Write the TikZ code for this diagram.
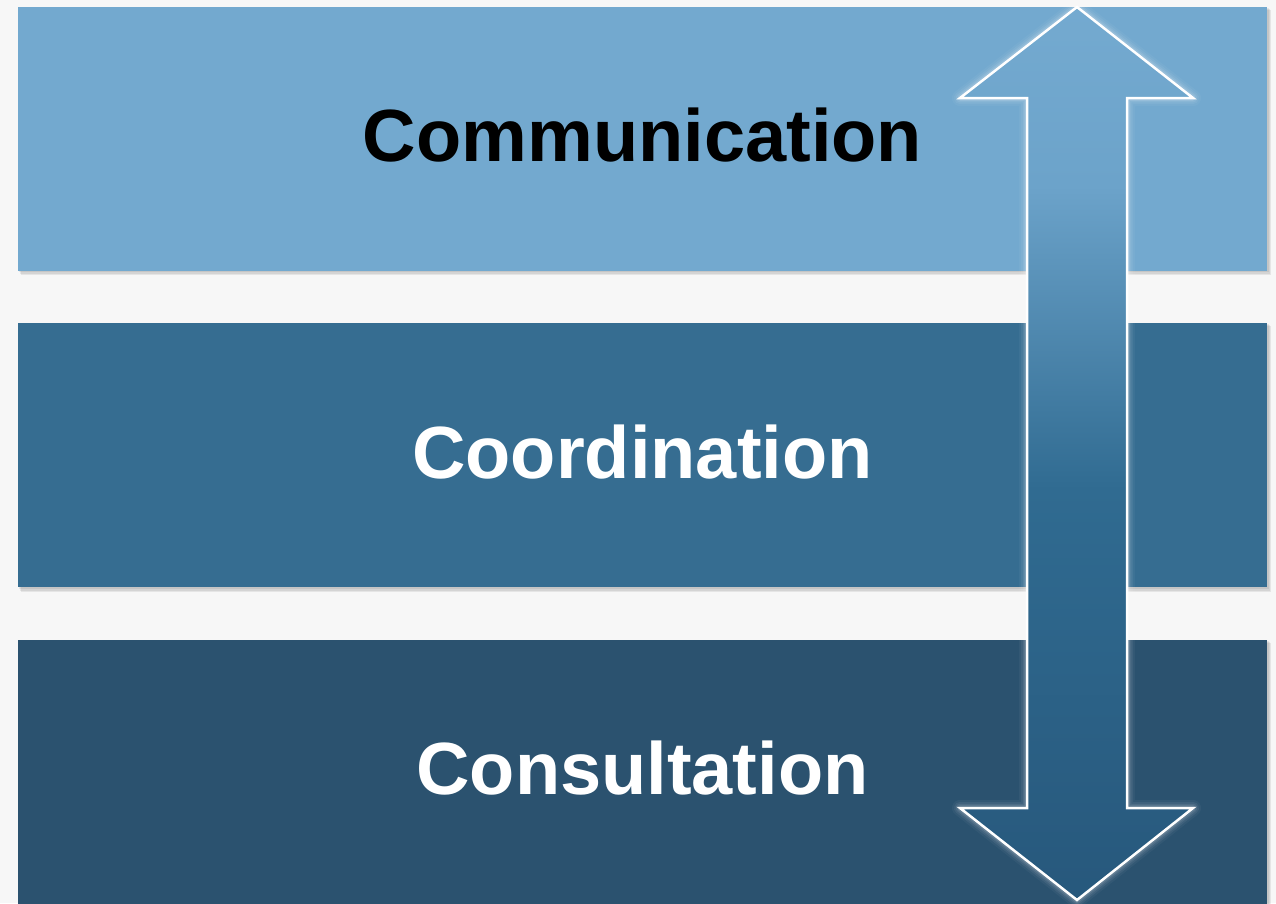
\documentclass[tikz,border=0pt]{standalone}
\usepackage{fontspec}
\setmainfont{Liberation Sans}
\definecolor{pagebg}{HTML}{F7F7F7}
\definecolor{bandA}{HTML}{73A9CF}
\definecolor{bandB}{HTML}{366D91}
\definecolor{bandC}{HTML}{2B526F}
\definecolor{arrowTop}{HTML}{74AAD0}
\definecolor{arrowUp}{HTML}{6CA3CA}
\definecolor{arrowMid}{HTML}{306B91}
\definecolor{arrowBot}{HTML}{27587C}
% vertical fill of the double arrow: 25bp = bottom tip, 75bp = top tip
\pgfdeclareverticalshading{arrowfade}{100bp}{
  color(0bp)=(arrowBot); color(25bp)=(arrowBot); color(48bp)=(arrowMid);
  color(65bp)=(arrowUp); color(75bp)=(arrowTop); color(100bp)=(arrowTop)}
\begin{document}
\begin{tikzpicture}[x=1pt,y=-1pt,
  band/.style={rectangle, inner sep=0pt, minimum width=1249pt, minimum height=264pt, anchor=north west},
  label/.style={font=\fontsize{74}{88}\selectfont\bfseries, inner sep=0pt},
  bandshadow/.style={fill=black, opacity=0.07}]
  % page
  \fill[pagebg] (0,0) rectangle (1276,903);
  \useasboundingbox (0,0) rectangle (1276,903);

  % soft shadows under the bands
  \foreach \t/\b in {7/271, 323/588, 640/906} {
    \fill[bandshadow] (21,\t+3) rectangle (1271,\b+4);
    \fill[bandshadow] (20,\t+2) rectangle (1270,\b+2.5);
    \fill[bandshadow] (19,\t+1) rectangle (1269,\b+1.2);
  }

  % the three bands
  \node[band, fill=bandA] (comm) at (18,7) {};
  \node[band, fill=bandB] (coord) at (18,323) {};
  \node[band, fill=bandC, minimum height=266pt] (cons) at (18,640) {};

  % band titles
  \node[label, text=black] (commtext) at (642.5,135) {Communication};
  \node[label, text=white] (coordtext) at (642.5,452) {Coordination};
  \node[label, text=white] (constext) at (642.5,768) {Consultation};

  % double arrow outline
  \def\arrowpath{(1077,7) -- (1193,98) -- (1127,98) -- (1127,808) -- (1193,808) -- (1077,900)
    -- (960,808) -- (1027,808) -- (1027,98) -- (960,98) -- cycle}
  % white glow
  \foreach \w/\o in {16/0.04, 12/0.06, 8.5/0.08, 5.5/0.12} {
    \draw[white, line width=\w pt, opacity=\o, line join=round] \arrowpath;
  }
  \shade[shading=arrowfade] \arrowpath;
  \draw[white, line width=2.5pt, line join=miter] \arrowpath;
\end{tikzpicture}
\end{document}
